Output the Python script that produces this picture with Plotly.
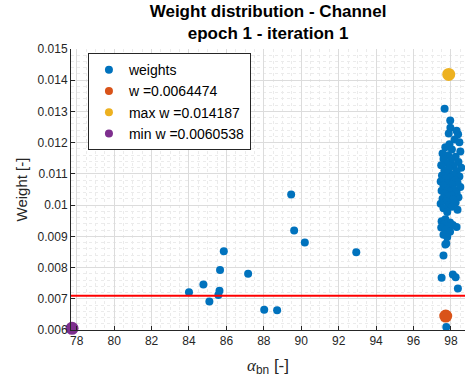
import plotly.graph_objects as go

# scattered weights
x_scatter = [84.0, 84.77, 85.09, 85.57, 85.63, 85.66, 85.86, 87.16, 88.02, 88.71,
             89.46, 89.62, 90.19, 92.94]
y_scatter = [0.00721, 0.00746, 0.00691, 0.00712, 0.00726, 0.00792, 0.00852, 0.00780,
             0.00665, 0.00663, 0.01034, 0.00919, 0.00880, 0.00849]

# dense cluster near 98
x_cluster = [97.66, 97.96, 97.97, 97.88, 98.38, 98.30, 97.92, 98.45, 98.20, 97.70,
             98.05, 98.50, 97.55, 97.85, 98.25, 97.60, 98.00, 98.40, 97.75, 97.48,
             98.15, 98.55, 97.90, 97.65, 98.30, 97.80, 98.10, 97.52, 98.45, 97.95,
             97.70, 98.20, 97.45, 98.35, 97.85, 98.05, 97.60, 98.50, 97.75, 98.15,
             97.50, 97.95, 98.30, 97.65, 98.00, 97.85, 98.40, 97.55, 98.10, 97.75,
             98.25, 97.45, 97.90, 98.05, 97.60, 98.35, 97.80, 97.70, 97.50, 97.95,
             97.62, 98.10, 97.85, 97.48, 98.30, 97.72, 97.95, 97.60, 97.80, 97.75,
             97.60, 97.70, 97.50, 98.10, 98.25, 98.37, 97.75]
y_cluster = [0.01309, 0.01271, 0.01248, 0.01229, 0.01227, 0.01238, 0.01195, 0.01201, 0.01210, 0.01185,
             0.01178, 0.01172, 0.01165, 0.01160, 0.01155, 0.01148, 0.01142, 0.01138, 0.01135, 0.01128,
             0.01125, 0.01120, 0.01118, 0.01112, 0.01108, 0.01102, 0.01098, 0.01095, 0.01092, 0.01088,
             0.01085, 0.01080, 0.01076, 0.01072, 0.01070, 0.01066, 0.01062, 0.01058, 0.01055, 0.01050,
             0.01046, 0.01043, 0.01040, 0.01036, 0.01032, 0.01028, 0.01025, 0.01020, 0.01018, 0.01012,
             0.01008, 0.01004, 0.01000, 0.00995, 0.00990, 0.00985, 0.00978, 0.00955, 0.00948, 0.00944,
             0.00938, 0.00936, 0.00932, 0.00928, 0.00930, 0.00922, 0.00915, 0.00905, 0.00898, 0.00877,
             0.00839, 0.00874, 0.00767, 0.00778, 0.00769, 0.00733, 0.00610]

x_w, y_w = [97.72], [0.0064474]
x_max, y_max = [97.88], [0.014187]
x_min, y_min = [77.75], [0.0060538]
threshold = 0.0071

x_weights = x_scatter + x_cluster
y_weights = y_scatter + y_cluster

series = [
    ("weights", x_weights, y_weights, "#0072BD", 8),
    ("w =0.0064474", x_w, y_w, "#D95319", 13),
    ("max w =0.014187", x_max, y_max, "#EDB120", 13),
    ("min w =0.0060538", x_min, y_min, "#7E2F8E", 13),
]

fig = go.Figure()
for name, xs, ys, col, sz in series:
    fig.add_trace(go.Scatter(x=xs, y=ys, mode="markers", name=name, showlegend=False,
                             marker=dict(color=col, size=sz), cliponaxis=False))
# legend entries (uniform marker size as in the reference legend)
for name, xs, ys, col, sz in series:
    fig.add_trace(go.Scatter(x=[None], y=[None], mode="markers", name=name,
                             marker=dict(color=col, size=8)))
fig.add_hline(y=threshold, line=dict(color="#FF0000", width=2))

font_family = "Liberation Sans, Arial, sans-serif"
axis_common = dict(
    showline=True, linecolor="#262626", linewidth=1, mirror=False,
    ticks="inside", ticklen=4, tickcolor="#262626",
    tickfont=dict(size=12, color="#262626"),
    showgrid=True, gridcolor="#DCDCDC", gridwidth=1,
    zeroline=False,
)
fig.update_xaxes(range=[77.695, 98.75], tickvals=list(range(78, 99, 2)),
                 minor=dict(dtick=0.5, showgrid=True, gridcolor="#EBEBEB", griddash="dot", ticks=""),
                 title=dict(text="<span style='font-family:Liberation Serif, serif'><i>α</i></span><sub>bn</sub> [-]",
                            font=dict(size=17, color="#262626"), standoff=11),
                 **axis_common)
fig.update_yaxes(range=[0.006, 0.015], tickvals=[0.006, 0.007, 0.008, 0.009, 0.010, 0.011, 0.012, 0.013, 0.014, 0.015],
                 ticktext=["0.006", "0.007", "0.008", "0.009", "0.01", "0.011", "0.012", "0.013", "0.014", "0.015"],
                 minor=dict(dtick=0.0002, showgrid=True, gridcolor="#EBEBEB", griddash="dot", ticks=""),
                 title=dict(text="Weight [-]", font=dict(size=15, color="#262626"), standoff=6),
                 **axis_common)

fig.update_layout(
    width=465, height=378,
    margin=dict(l=71, r=0, t=49, b=48),
    paper_bgcolor="white", plot_bgcolor="white",
    font=dict(family=font_family, color="#262626"),
    title=dict(text="<b>Weight distribution - Channel<br>epoch 1 - iteration 1</b>",
               x=0.5765, xanchor="center", y=0.955, yanchor="top",
               font=dict(size=17, color="#000000")),
    legend=dict(x=0.043, y=0.985, xanchor="left", yanchor="top",
                bgcolor="white", bordercolor="#262626", borderwidth=1,
                font=dict(size=14, color="#000000"), itemsizing="trace",
                tracegroupgap=0),
)

fig.write_html("out.html")
